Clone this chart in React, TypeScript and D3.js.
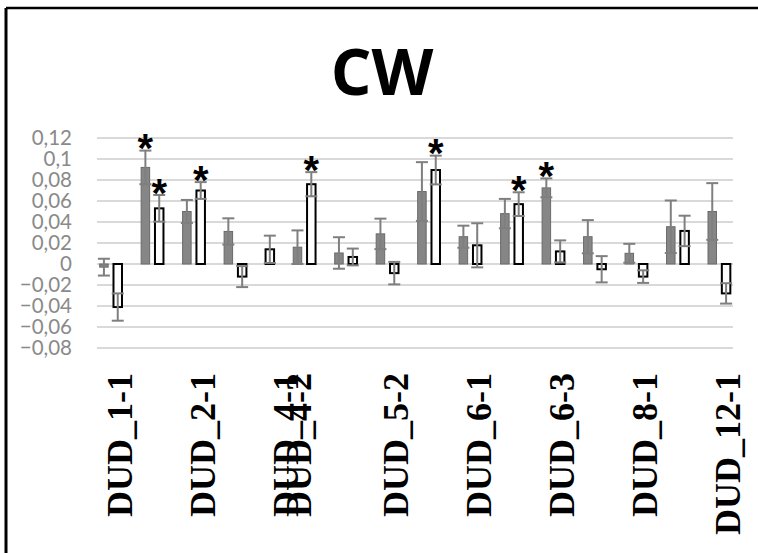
import React from "react";
import * as d3 from "d3";

// Filled (grey) series: slot index on the category axis, mean, error, significance
const filledSlots = [0, 3, 6, 9, 14, 17, 20, 23, 26, 29, 32, 35, 38, 41, 44];
const filledValues = [-0.003, 0.092, 0.05, 0.031, 0.016, 0.0105, 0.0287, 0.069, 0.026, 0.048, 0.0725, 0.026, 0.0102, 0.0355, 0.05];
const filledErrors = [0.008, 0.016, 0.011, 0.0125, 0.016, 0.015, 0.0145, 0.028, 0.0105, 0.014, 0.009, 0.0158, 0.009, 0.025, 0.027];
const filledStars = [false, true, false, false, false, false, false, false, false, false, true, false, false, false, false];

// Open (white) series
const openSlots = [1, 4, 7, 10, 12, 15, 18, 21, 24, 27, 30, 33, 36, 39, 42, 45];
const openValues = [-0.041, 0.053, 0.07, -0.012, 0.014, 0.076, 0.0067, -0.0087, 0.0895, 0.0178, 0.057, 0.012, -0.005, -0.012, 0.0315, -0.028];
const openErrors = [0.013, 0.0127, 0.008, 0.01, 0.013, 0.0115, 0.008, 0.0107, 0.0137, 0.021, 0.0113, 0.0105, 0.0125, 0.006, 0.0145, 0.0097];
const openStars = [false, true, true, false, false, true, false, false, true, false, true, false, false, false, false, false];

// Category labels and the slots they sit under
const axisLabels = ["DUD_1-1", "DUD_2-1", "DUD_4-1", "DUD_4-2", "DUD_5-2", "DUD_6-1", "DUD_6-3", "DUD_8-1", "DUD_12-1"];
const axisLabelSlots = [1, 7, 13, 14, 21, 27, 33, 39, 45];

const slotCount = 46;
const yTicks = [0.12, 0.1, 0.08, 0.06, 0.04, 0.02, 0, -0.02, -0.04, -0.06, -0.08];

const W = 758;
const H = 553;

export default function App() {
  const x = d3.scaleBand<number>().domain(d3.range(slotCount)).range([97, 733]).padding(0);
  const y = d3.scaleLinear().domain([-0.08, 0.12]).range([348, 138]);
  const fmt = (v: number) => {
    if (Math.abs(v) < 1e-9) return "0";
    return d3.format("")(+v.toFixed(2)).replace(".", ",");
  };

  const barW = 8.5;
  const capW = 12;
  const cx = (s: number) => (x(s) as number) + x.bandwidth() / 2;

  const series = [
    { slots: filledSlots, values: filledValues, errors: filledErrors, stars: filledStars, open: false },
    { slots: openSlots, values: openValues, errors: openErrors, stars: openStars, open: true },
  ];

  return (
    <svg
      width={W}
      height={H}
      style={{ position: "absolute", left: 0, top: 0, background: "#fff" }}
    >
      <rect x={0} y={0} width={W} height={H} fill="#fff" />
      {/* chart frame */}
      <line x1={6} y1={8} x2={W} y2={8} stroke="#000" strokeWidth={2.5} />
      <line x1={6} y1={8} x2={6} y2={H} stroke="#000" strokeWidth={3} />

      <text
        x={382}
        y={95}
        textAnchor="middle"
        style={{ fontFamily: "'Open Sans', sans-serif", fontWeight: 700, fontSize: 64 }}
        fill="#000"
      >
        CW
      </text>

      {/* gridlines */}
      {yTicks.map((t) => (
        <line key={"g" + t} x1={97} x2={733} y1={y(t)} y2={y(t)} stroke="#d9d9d9" strokeWidth={2} />
      ))}
      {yTicks.map((t) => (
        <text
          key={"t" + t}
          x={72}
          y={y(t)}
          dy="0.36em"
          textAnchor="end"
          style={{ fontFamily: "Lato, sans-serif", fontSize: 20.5 }}
          fill="#8a8a8a"
        >
          {fmt(t)}
        </text>
      ))}

      {/* bars */}
      {series.map((s, si) =>
        s.slots.map((slot, i) => {
          const v = s.values[i];
          const y0 = y(0);
          const yv = y(v);
          const top = Math.min(y0, yv);
          const h = Math.abs(yv - y0);
          return (
            <rect
              key={`b${si}-${i}`}
              x={cx(slot) - barW / 2}
              y={top}
              width={barW}
              height={Math.max(h, 0.5)}
              fill={s.open ? "#ffffff" : "#868686"}
              stroke={s.open ? "#000000" : "#6a6a6a"}
              strokeWidth={s.open ? 2 : 1}
            />
          );
        })
      )}

      {/* error bars */}
      {series.map((s, si) =>
        s.slots.map((slot, i) => {
          const v = s.values[i];
          const e = s.errors[i];
          const c = cx(slot);
          return (
            <g key={`e${si}-${i}`} stroke="#7f7f7f" strokeWidth={2}>
              <line x1={c} x2={c} y1={y(v + e)} y2={y(v - e)} />
              <line x1={c - capW / 2} x2={c + capW / 2} y1={y(v + e)} y2={y(v + e)} />
              <line x1={c - capW / 2} x2={c + capW / 2} y1={y(v - e)} y2={y(v - e)} />
            </g>
          );
        })
      )}

      {/* significance marks */}
      {series.map((s, si) =>
        s.slots.map((slot, i) =>
          s.stars[i] ? (
            <text
              key={`s${si}-${i}`}
              x={cx(slot)}
              y={y(s.values[i] + s.errors[i]) - 7.5 + 19}
              textAnchor="middle"
              style={{ fontFamily: "'Liberation Sans', Arial, sans-serif", fontWeight: 700, fontSize: 40 }}
              fill="#000"
            >
              *
            </text>
          ) : null
        )
      )}

      {/* category labels */}
      {axisLabels.map((lab, i) => {
        const c = cx(axisLabelSlots[i]) + 2;
        return (
          <text
            key={"l" + lab}
            transform={`translate(${c + 12},373) rotate(-90)`}
            textAnchor="end"
            style={{
              fontFamily: "'Liberation Serif', 'Times New Roman', serif",
              fontWeight: 700,
              fontSize: 36,
            }}
            fill="#000"
          >
            {lab}
          </text>
        );
      })}
    </svg>
  );
}
